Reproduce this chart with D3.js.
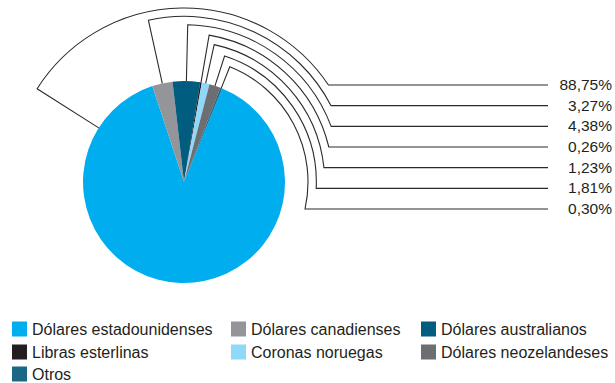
<!DOCTYPE html>
<html>
<head>
<meta charset="utf-8">
<script src="https://cdn.jsdelivr.net/npm/d3@7"></script>
<style>
  html, body { margin: 0; padding: 0; background: #fff; }
  svg { display: block; font-family: "Liberation Sans", Arial, Helvetica, sans-serif; }
</style>
</head>
<body>
<svg id="chart" width="615" height="383"></svg>
<script>
// ---- data ----
const categories = [
  "Dólares estadounidenses",
  "Dólares canadienses",
  "Dólares australianos",
  "Libras esterlinas",
  "Coronas noruegas",
  "Dólares neozelandeses",
  "Otros"
];
const shares = [88.75, 3.27, 4.38, 0.26, 1.23, 1.81, 0.30];
const colors = ["#00adee", "#939598", "#005d80", "#231f20", "#8fd8f8", "#6d6e71", "#1b6884"];

// ---- layout ----
const svg = d3.select("#chart");
const cx = 184, cy = 182, R = 101;
const deg = Math.PI / 180;
const start = 22.2 * deg;

const data = categories.map((c, i) => ({ name: c, value: shares[i], color: colors[i] }));

const pie = d3.pie().value(d => d.value).sort(null)
  .startAngle(start).endAngle(start + 2 * Math.PI);
const arcs = pie(data);
const arcGen = d3.arc().innerRadius(0).outerRadius(R);

const g = svg.append("g").attr("transform", `translate(${cx},${cy})`);
g.selectAll("path.slice").data(arcs).join("path")
  .attr("class", "slice")
  .attr("d", arcGen)
  .attr("fill", d => d.data.color);

// leader lines
const labelY = d3.scalePoint().domain(categories).range([85, 209]);
const leaderR = d3.scalePoint().domain(categories).range([174, 124]);
const lineEndX = 548;
const fmt = d3.formatLocale({ decimal: ",", thousands: ".", grouping: [3], currency: ["", ""] }).format(".2f");

arcs.forEach(d => {
  const span = d.endAngle - d.startAngle;
  const a = span > Math.PI ? d.endAngle - 0.123 * span : (d.startAngle + d.endAngle) / 2;
  const r = leaderR(d.data.name);
  const y = labelY(d.data.name);
  const aEnd = Math.acos((cy - y) / r);
  let a0 = a;
  while (a0 > aEnd) a0 -= 2 * Math.PI;
  const p = d3.path();
  p.moveTo(cx + R * Math.sin(a), cy - R * Math.cos(a));
  p.lineTo(cx + r * Math.sin(a), cy - r * Math.cos(a));
  p.arc(cx, cy, r, a0 - Math.PI / 2, aEnd - Math.PI / 2, false);
  p.lineTo(lineEndX, y);
  svg.append("path")
    .attr("d", p.toString())
    .attr("fill", "none")
    .attr("stroke", "#2b2b2b")
    .attr("stroke-width", 1.1);
  svg.append("text")
    .attr("x", 612)
    .attr("y", y + 5)
    .attr("text-anchor", "end")
    .attr("font-size", 15.5)
    .attr("fill", "#231f20")
    .text(fmt(d.data.value) + "%");
});

// legend
const colX = [12, 231, 421];
const rowY = [321.5, 344.5, 366.5];
const legend = svg.append("g");
data.forEach((d, i) => {
  const col = i % 3, row = Math.floor(i / 3);
  const x = colX[col], y = rowY[row];
  legend.append("rect")
    .attr("x", x).attr("y", y)
    .attr("width", 15).attr("height", 15)
    .attr("fill", d.color);
  legend.append("text")
    .attr("x", x + 20).attr("y", y + 13.5)
    .attr("font-size", 16)
    .attr("fill", "#231f20")
    .text(d.name);
});
</script>
</body>
</html>
